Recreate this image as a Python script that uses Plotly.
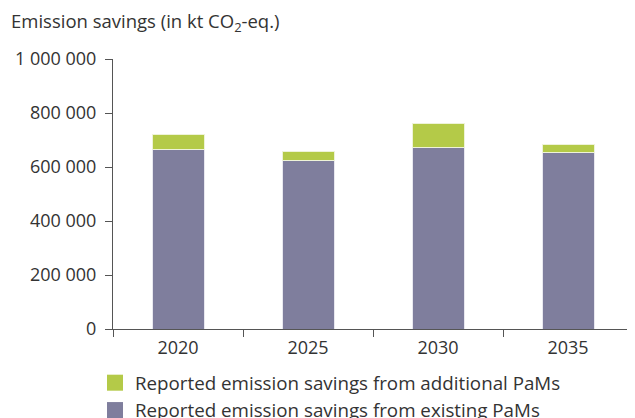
import plotly.graph_objects as go

years = ["2020", "2025", "2030", "2035"]
existing = [666000, 623000, 674000, 653000]
additional = [54000, 33000, 88000, 31000]
y_ticks = [0, 200000, 400000, 600000, 800000, 1000000]
legend_names = ["Reported emission savings from additional PaMs",
                "Reported emission savings from existing PaMs"]

GREEN = "#b4ca48"
PURPLE = "#7f7e9d"
AXIS = "#555555"
TEXT = "#333333"

# page body adds an 8px offset; figure sized to fit the visible window
OFF = 8
W, H = 635 - OFF, 418 - OFF
L, T = 113 - OFF, 59 - OFF
R = W - (633 - OFF)
B = H - (329 - OFF)
PH = H - T - B
PW = W - L - R

fig = go.Figure()
fig.add_trace(go.Bar(
    x=years, y=existing, name=legend_names[1], showlegend=False,
    marker=dict(color=PURPLE, line=dict(color="#e8e8ef", width=1)), width=0.4,
))
fig.add_trace(go.Bar(
    x=years, y=additional, name=legend_names[0], showlegend=False,
    marker=dict(color=GREEN, line=dict(color="#eef3d8", width=1)), width=0.4,
))
# legend entries (larger square symbols)
for name, col in zip(legend_names, [GREEN, PURPLE]):
    fig.add_trace(go.Scatter(
        x=[years[0]], y=[None], mode="markers", name=name,
        marker=dict(symbol="square", size=16, color=col),
        hoverinfo="skip",
    ))

fig.update_layout(
    barmode="stack",
    width=W, height=H,
    margin=dict(l=L, r=R, t=T, b=B, autoexpand=False),
    paper_bgcolor="white", plot_bgcolor="white",
    font=dict(family="Open Sans", size=18, color=TEXT),
    separators=". ",
    showlegend=True,
    legend=dict(
        traceorder="normal",
        orientation="v",
        xref="container", yref="container",
        x=(98 - OFF - 3) / W, xanchor="left",
        y=1 - (381 - OFF - 17) / H, yanchor="top",
        font=dict(size=18.75, color=TEXT),
        itemsizing="trace",
        tracegroupgap=0,
        bgcolor="rgba(0,0,0,0)",
    ),
    annotations=[dict(
        text="Emission savings (in kt CO<sub>2</sub>-eq.)",
        xref="paper", yref="paper",
        x=(9 - OFF - L) / PW, xanchor="left",
        y=1 + (T - (22 - OFF)) / PH, yanchor="middle",
        showarrow=False,
        font=dict(family="Open Sans", size=18.5, color=TEXT),
    )],
    bargap=0.6,
)

fig.update_xaxes(
    showline=True, linecolor=AXIS, linewidth=1,
    ticks="outside", tickson="boundaries", ticklen=7, tickcolor=AXIS,
    showgrid=False, automargin=False, ticklabelstandoff=2,
)
fig.update_yaxes(
    range=[0, 1000000], tickvals=y_ticks, tickformat=",d",
    showline=True, linecolor=AXIS, linewidth=1,
    ticks="outside", ticklen=7, tickcolor=AXIS,
    showgrid=False, zeroline=False, automargin=False, ticklabelstandoff=5,
)

fig.write_html("out.html")
